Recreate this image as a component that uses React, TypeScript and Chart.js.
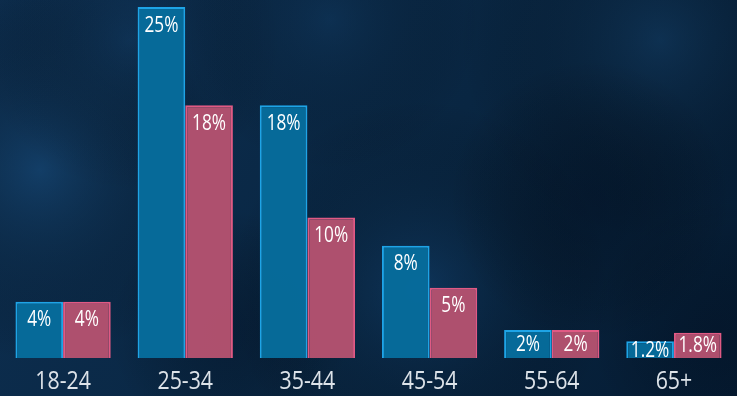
import React, { useEffect, useRef } from "react";
import { Chart, registerables } from "chart.js";

Chart.register(...registerables);

const categories = ["18-24", "25-34", "35-44", "45-54", "55-64", "65+"];
const seriesA = [4, 25, 18, 8, 2, 1.2];
const seriesB = [4, 18, 10, 5, 2, 1.8];
const labelsA = ["4%", "25%", "18%", "8%", "2%", "1.2%"];
const labelsB = ["4%", "18%", "10%", "5%", "2%", "1.8%"];

const FONT = '"Open Sans", "Noto Sans", sans-serif';
const SQUEEZE = 0.82;

const bgPlugin = {
  id: "bg",
  beforeDraw(chart: any) {
    const { ctx, width, height } = chart;
    ctx.save();
    const g = ctx.createLinearGradient(0, 0, width, height);
    g.addColorStop(0, "#0d2f51");
    g.addColorStop(0.55, "#092642");
    g.addColorStop(1, "#051c34");
    ctx.fillStyle = g;
    ctx.fillRect(0, 0, width, height);
    const blobs = [
      [40, 170, 190, "rgba(24,76,124,0.55)"],
      [130, 40, 150, "rgba(20,64,106,0.35)"],
      [420, 290, 190, "rgba(20,70,118,0.5)"],
      [660, 40, 200, "rgba(22,66,106,0.45)"],
      [330, 20, 150, "rgba(18,60,100,0.35)"],
      [590, 200, 140, "rgba(2,12,28,0.4)"],
      [230, 330, 120, "rgba(2,12,28,0.35)"],
      [720, 330, 130, "rgba(2,10,24,0.3)"],
    ];
    for (const [x, y, r, c] of blobs as any) {
      const rg = ctx.createRadialGradient(x, y, 0, x, y, r);
      rg.addColorStop(0, c);
      rg.addColorStop(1, "rgba(0,0,0,0)");
      ctx.fillStyle = rg;
      ctx.fillRect(0, 0, width, height);
    }
    ctx.restore();
  },
};

function squeezedText(ctx: any, text: string, x: number, y: number) {
  ctx.save();
  ctx.translate(x, y);
  ctx.scale(SQUEEZE, 1);
  ctx.fillText(text, 0, 0);
  ctx.restore();
}

const labelPlugin = {
  id: "barLabels",
  afterDatasetsDraw(chart: any) {
    const { ctx } = chart;
    ctx.save();
    ctx.font = `21px ${FONT}`;
    ctx.fillStyle = "#ffffff";
    ctx.textAlign = "center";
    ctx.textBaseline = "middle";
    chart.data.datasets.forEach((ds: any, di: number) => {
      const meta = chart.getDatasetMeta(di);
      const texts = di === 0 ? labelsA : labelsB;
      meta.data.forEach((bar: any, i: number) => {
        const h = bar.base - bar.y;
        const cy = bar.y + Math.min(17.5, h / 2);
        squeezedText(ctx, texts[i], bar.x, cy + 1);
      });
    });
    // category labels drawn at the x scale's tick positions
    const xs = chart.scales.x;
    ctx.font = `26px ${FONT}`;
    ctx.fillStyle = "#dde3e9";
    categories.forEach((c, i) => {
      squeezedText(ctx, c, xs.getPixelForTick(i), 382);
    });
    ctx.restore();
  },
};

export default function App() {
  const ref = useRef<HTMLCanvasElement>(null);
  useEffect(() => {
    const chart = new Chart(ref.current!, {
      type: "bar",
      data: {
        labels: categories,
        datasets: [
          {
            data: seriesA,
            backgroundColor: "rgba(6,108,156,0.97)",
            borderColor: "#1ea4e6",
            borderWidth: 2,
            categoryPercentage: 0.78,
            barPercentage: 1,
          },
          {
            data: seriesB,
            backgroundColor: "rgba(180,82,112,0.97)",
            borderColor: "#e05a84",
            borderWidth: 2,
            categoryPercentage: 0.78,
            barPercentage: 1,
          },
        ],
      },
      options: {
        animation: false,
        responsive: false,
        devicePixelRatio: 1,
        layout: { padding: { left: 2, right: 2, top: 0, bottom: 0 } },
        plugins: { legend: { display: false }, tooltip: { enabled: false } },
        scales: {
          x: {
            grid: { display: false, drawTicks: false },
            border: { display: false },
            ticks: {
              color: "rgba(0,0,0,0)",
              font: { family: FONT, size: 25 },
              padding: 8,
              maxRotation: 0,
            },
            afterFit(scale: any) {
              scale.height = 38;
            },
          },
          y: { display: false, min: 0, max: 25.5 },
        },
      },
      plugins: [bgPlugin, labelPlugin],
    });
    return () => chart.destroy();
  }, []);
  return (
    <div style={{ position: "absolute", left: 0, top: 0, width: 737, height: 396 }}>
      <canvas ref={ref} width={737} height={396} style={{ display: "block" }} />
    </div>
  );
}
